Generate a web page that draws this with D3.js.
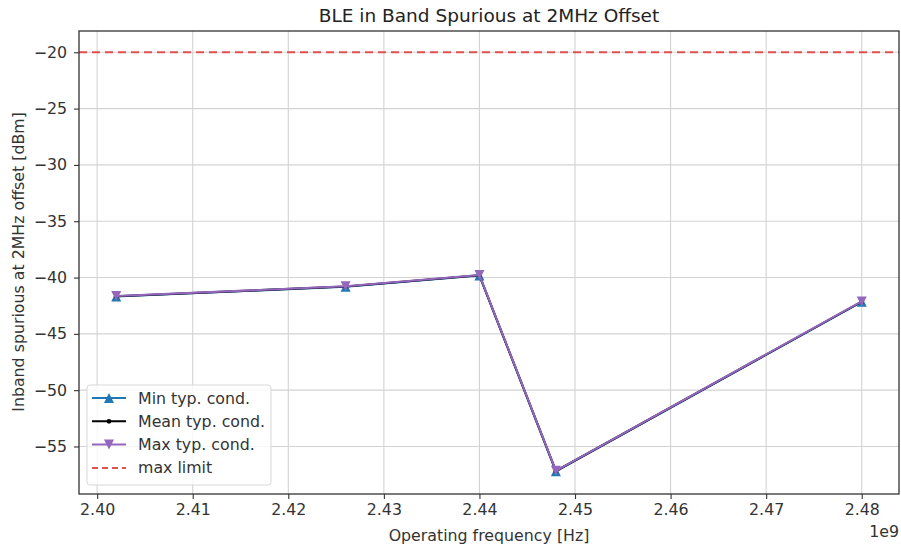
<!DOCTYPE html>
<html>
<head>
<meta charset="utf-8">
<script src="https://cdn.jsdelivr.net/npm/d3@7"></script>
<style>
  html, body { margin: 0; padding: 0; background: #fff; }
  svg { display: block; font-family: "DejaVu Sans", sans-serif; }
</style>
</head>
<body>
<svg id="chart" width="901" height="548"></svg>
<script>
// BLE channel frequencies (Hz) and measured in-band spurious levels (dBm)
const freqs = [2.402e9, 2.426e9, 2.440e9, 2.448e9, 2.480e9];
const minVals  = [-41.68, -40.82, -39.82, -57.20, -42.16];
const meanVals = [-41.66, -40.80, -39.80, -57.18, -42.14];
const maxVals  = [-41.64, -40.78, -39.78, -57.16, -42.12];
const limitVal = -20;
const xTicks = [2.40e9, 2.41e9, 2.42e9, 2.43e9, 2.44e9, 2.45e9, 2.46e9, 2.47e9, 2.48e9];
const yTicks = [-20, -25, -30, -35, -40, -45, -50, -55];

const svg = d3.select("#chart");
const plot = { left: 79, top: 31, right: 899, bottom: 494 };
const labelSize = "15.8px";

const x = d3.scaleLinear().domain([2.39810e9, 2.48390e9]).range([plot.left, plot.right]);
const y = d3.scaleLinear().domain([-59.22, -18.11]).range([plot.bottom, plot.top]);

// grid
const grid = svg.append("g").attr("stroke", "#d3d3d3").attr("stroke-width", 1.1);
xTicks.forEach(t => grid.append("line")
  .attr("x1", x(t)).attr("x2", x(t)).attr("y1", plot.top).attr("y2", plot.bottom));
yTicks.forEach(t => grid.append("line")
  .attr("x1", plot.left).attr("x2", plot.right).attr("y1", y(t)).attr("y2", y(t)));

// axes
const xAxis = d3.axisBottom(x).tickValues(xTicks).tickSize(5).tickPadding(5)
  .tickFormat(d => (d / 1e9).toFixed(2));
const yAxis = d3.axisLeft(y).tickValues(yTicks).tickSize(5).tickPadding(7)
  .tickFormat(d => d < 0 ? "\u2212" + Math.abs(d) : d);

const gx = svg.append("g").attr("transform", `translate(0,${plot.bottom})`).call(xAxis);
const gy = svg.append("g").attr("transform", `translate(${plot.left},0)`).call(yAxis);
[gx, gy].forEach(g => {
  g.select(".domain").remove();
  g.selectAll(".tick line").attr("stroke", "#333").attr("stroke-width", 1.1);
  g.selectAll(".tick text").attr("fill", "#333").style("font-size", labelSize)
    .style("font-family", "DejaVu Sans, sans-serif");
});

// series
const line = d3.line().x(d => x(d[0])).y(d => y(d[1]));
const series = [
  { name: "Min typ. cond.",  vals: minVals,  color: "#1f77b4", marker: "up" },
  { name: "Mean typ. cond.", vals: meanVals, color: "#000000", marker: "dot" },
  { name: "Max typ. cond.",  vals: maxVals,  color: "#9467bd", marker: "down" }
];

function drawMarker(g, type, cx, cy, color) {
  if (type === "dot") {
    g.append("circle").attr("cx", cx).attr("cy", cy).attr("r", 2.4).attr("fill", color);
  } else {
    const s = 5;
    const pts = type === "up"
      ? [[cx, cy - s], [cx - s, cy + s], [cx + s, cy + s]]
      : [[cx, cy + s], [cx - s, cy - s], [cx + s, cy - s]];
    g.append("path").attr("d", "M" + pts.map(p => p.join(",")).join("L") + "Z").attr("fill", color);
  }
}

// red dashed limit
svg.append("line")
  .attr("x1", plot.left).attr("x2", plot.right)
  .attr("y1", y(limitVal)).attr("y2", y(limitVal))
  .attr("stroke", "#e05050").attr("stroke-width", 2).attr("stroke-dasharray", "8,5");

series.forEach(s => {
  const data = freqs.map((f, i) => [f, s.vals[i]]);
  const g = svg.append("g");
  g.append("path").datum(data).attr("d", line)
    .attr("fill", "none").attr("stroke", s.color).attr("stroke-width", 2.1)
    .attr("stroke-linejoin", "round");
  data.forEach(d => drawMarker(g, s.marker, x(d[0]), y(d[1]), s.color));
});

// frame
svg.append("rect").attr("x", plot.left).attr("y", plot.top)
  .attr("width", plot.right - plot.left).attr("height", plot.bottom - plot.top)
  .attr("fill", "none").attr("stroke", "#333").attr("stroke-width", 1.3);

// legend
const lg = svg.append("g");
lg.append("rect").attr("x", 87).attr("y", 385).attr("width", 184).attr("height", 100)
  .attr("rx", 3).attr("fill", "#fff").attr("fill-opacity", 0.8)
  .attr("stroke", "#d8d8d8").attr("stroke-width", 1);
const items = series.map(s => ({ name: s.name, color: s.color, marker: s.marker, dash: null }))
  .concat([{ name: "max limit", color: "#e05050", marker: null, dash: "6,4" }]);
items.forEach((it, i) => {
  const cy = 398 + i * 23.3;
  lg.append("line").attr("x1", 92).attr("x2", 126).attr("y1", cy).attr("y2", cy)
    .attr("stroke", it.color).attr("stroke-width", 2)
    .attr("stroke-dasharray", it.dash);
  if (it.marker) drawMarker(lg, it.marker, 109, cy, it.color);
  lg.append("text").attr("x", 138).attr("y", cy + 5.5).text(it.name)
    .attr("fill", "#333").style("font-size", labelSize);
});

// titles
svg.append("text").attr("x", 489).attr("y", 22).attr("text-anchor", "middle")
  .style("font-size", "18.5px").attr("fill", "#222")
  .text("BLE in Band Spurious at 2MHz Offset");
svg.append("text").attr("x", 489).attr("y", 541).attr("text-anchor", "middle")
  .style("font-size", labelSize).attr("fill", "#333")
  .text("Operating frequency [Hz]");
svg.append("text").attr("transform", "translate(24,262) rotate(-90)")
  .attr("text-anchor", "middle").style("font-size", labelSize).attr("fill", "#333")
  .text("Inband spurious at 2MHz offset [dBm]");
svg.append("text").attr("x", 899).attr("y", 537).attr("text-anchor", "end")
  .style("font-size", labelSize).attr("fill", "#333").text("1e9");
</script>
</body>
</html>
